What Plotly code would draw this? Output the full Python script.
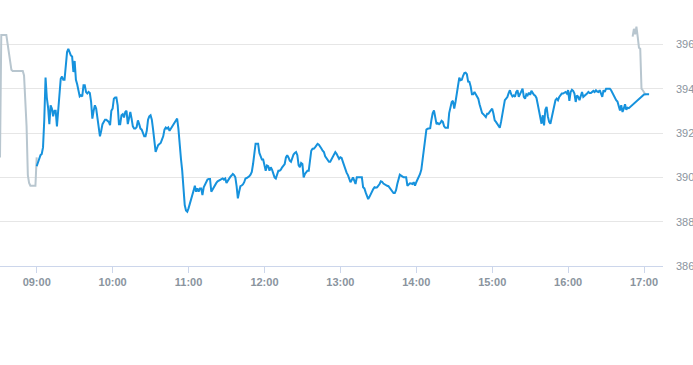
import pandas as pd
import plotly.graph_objects as go

DAY = "2024-01-02 "

# Pre-market (grey)
pre_times = ["08:31", "08:32", "08:36", "08:37", "08:38", "08:39", "08:40", "08:41",
             "08:49", "08:50", "08:51", "08:52", "08:53", "08:54", "08:55", "08:59", "09:00"]
pre_prices = [390.9, 396.42, 396.42, 396.05, 395.7, 395.3, 394.85, 394.8,
              394.8, 394.6, 393.7, 392.3, 390.1, 389.75, 389.62, 389.62, 390.9]

# Regular session (blue), one value per minute from session_start
session_start = "09:00"
session_prices = [
    390.5, 390.7, 390.85, 391.0, 391.05, 391.35, 392.6, 394.5, 393.6, 393.15,
    392.4, 393.25, 393.1, 392.75, 393.0, 393.0, 392.3, 393.1, 394.0, 394.45,
    394.55, 394.4, 394.4, 395.2, 395.65, 395.8, 395.65, 395.5, 395.45, 394.75,
    395.25, 394.4, 394.2, 393.95, 393.65, 393.7, 393.65, 394.15, 394.15, 393.85,
    393.78, 393.85, 393.8, 393.4, 392.65, 393.0, 393.25, 393.1, 392.7, 392.3,
    391.85, 392.1, 392.4, 392.5, 392.6, 392.6, 392.55, 392.5, 392.35, 393.0,
    393.1, 393.55, 393.6, 393.6, 393.25, 392.4, 392.4, 392.8, 392.85, 392.7,
    392.95, 393.0, 392.4, 392.7, 392.95, 392.65, 392.3, 392.2, 392.2, 392.27,
    392.57, 392.4, 392.2, 392.15, 391.95, 391.85, 391.85, 392.1, 392.6, 392.75,
    392.8, 392.6, 392.15, 391.7, 391.15, 391.3, 391.45, 391.5, 391.55, 391.7,
    391.85, 392.15, 392.25, 392.2, 392.25, 392.1, 392.2, 392.25, 392.35, 392.45,
    392.58, 392.65, 392.2, 391.4, 390.85, 390.3, 389.5, 388.75, 388.5, 388.45,
    388.6, 388.85, 389.05, 389.2, 389.4, 389.62, 389.35, 389.5, 389.35, 389.5,
    389.5, 389.2, 389.55, 389.68, 389.8, 389.9, 389.93, 389.93, 389.35, 389.45,
    389.6, 389.65, 389.75, 389.82, 389.85, 389.87, 389.9, 389.95, 389.9, 389.95,
    389.75, 389.85, 389.95, 390.02, 390.08, 390.15, 390.1, 390.0, 389.6, 389.05,
    389.35, 389.6, 389.63, 389.68, 389.78, 389.95, 389.97, 390.0, 390.05, 390.12,
    390.24, 390.6, 391.2, 391.52, 391.52, 391.52, 391.1, 390.95, 390.8, 390.8,
    390.57, 390.3, 390.53, 390.5, 390.3, 390.45, 390.35, 390.2, 390.0, 389.95,
    390.15, 390.3, 390.3, 390.35, 390.45, 390.55, 390.6, 390.9, 391.0, 390.9,
    390.75, 390.7, 390.9, 391.03, 391.1, 391.14, 391.0, 390.55, 390.46, 390.65,
    390.6, 390.0, 390.15, 390.25, 390.3, 390.3, 390.8, 391.2, 391.29, 391.29,
    391.35, 391.44, 391.51, 391.47, 391.4, 391.3, 391.2, 391.14, 390.95, 390.85,
    390.75, 390.7, 390.7, 390.83, 390.95, 391.05, 391.14, 391.06, 390.93, 390.83,
    390.9, 390.87, 390.7, 390.5, 390.35, 390.2, 390.1, 389.88, 389.78, 389.88,
    390.0, 389.85, 389.7, 390.0, 390.0, 390.0, 390.0, 390.0, 389.55, 389.5,
    389.32, 389.17, 389.02, 389.12, 389.25, 389.35, 389.47, 389.55, 389.53, 389.55,
    389.62, 389.7, 389.82, 389.8, 389.72, 389.68, 389.63, 389.62, 389.6, 389.52,
    389.42, 389.32, 389.29, 389.29, 389.42, 389.7, 389.95, 390.12, 390.08, 390.03,
    390.0, 390.0, 390.0, 389.62, 389.7, 389.73, 389.72, 389.7, 389.78, 389.62,
    389.78, 389.9, 390.05, 390.15, 390.35, 390.8, 391.3, 391.85, 392.15, 392.19,
    392.19, 392.22, 392.6, 392.9, 393.02, 392.65, 392.4, 392.45, 392.4, 392.45,
    392.55, 392.5, 392.3, 392.24, 392.24, 392.24, 392.9, 393.18, 393.4, 393.45,
    393.1, 393.4, 393.78, 394.2, 394.5, 394.38, 394.4, 394.58, 394.7, 394.72,
    394.65, 394.32, 394.31, 394.1, 393.75, 393.75, 393.85, 393.75, 393.65, 393.55,
    393.3, 393.05, 392.9, 392.85, 392.8, 392.72, 392.87, 392.87, 392.95, 393.05,
    393.1, 392.87, 392.57, 392.5, 392.4, 392.3, 392.24, 392.5, 392.85, 393.2,
    393.48, 393.55, 393.62, 393.8, 393.93, 393.75, 393.65, 393.7, 393.63, 393.85,
    393.93, 393.63, 393.78, 393.93, 394.0, 393.63, 393.55, 393.75, 393.7, 393.82,
    393.72, 393.9, 393.8, 393.72, 393.68, 393.58, 393.3, 393.0, 392.55, 392.42,
    392.8, 392.34, 393.05, 393.18, 392.75, 392.5, 392.42, 392.72, 392.95, 393.25,
    393.48, 393.55, 393.48, 393.63, 393.7, 393.78, 393.78, 393.81, 393.85, 393.78,
    393.93, 393.45, 393.85, 393.95, 393.9, 393.78, 393.4, 393.7, 393.63, 393.48,
    393.7, 393.85, 393.63, 393.68, 393.7, 393.78, 393.85, 393.8, 393.8, 393.85,
    393.9, 393.85, 393.93, 393.87, 393.85, 393.93, 393.78, 393.63, 393.93, 393.85,
    394.0, 394.0, 394.0, 394.0, 393.93, 393.8, 393.72, 393.6, 393.48, 393.42,
    393.25, 393.02, 393.25, 392.95, 393.1, 393.3, 393.05, 393.14, 393.12,
]
# Closing prints (blue)
close_times = ["17:00", "17:02", "17:04"]
close_prices = [393.74, 393.75, 393.75]

# After-hours (grey)
post_times = ["16:51", "16:52", "16:53", "16:54", "16:55", "16:56", "16:57", "16:58",
              "16:59", "17:00", "17:01"]
post_prices = [396.35, 396.7, 396.45, 396.8, 396.35, 395.85, 395.8, 394.0,
               393.93, 393.8, 393.75]

y_ticks = [386, 388, 390, 392, 394, 396]
x_ticks = ["09:00", "10:00", "11:00", "12:00", "13:00", "14:00", "15:00", "16:00", "17:00"]

session_x = list(pd.date_range(DAY + session_start, periods=len(session_prices), freq="min"))
blue_x = session_x + [pd.Timestamp(DAY + t) for t in close_times]
blue_y = session_prices + close_prices

GREY = "#B8C6CF"
BLUE = "#1692DD"
LABEL = "#8A949E"

fig = go.Figure()
fig.add_trace(go.Scatter(x=[DAY + t for t in pre_times], y=pre_prices, mode="lines",
                         line=dict(color=GREY, width=2), hoverinfo="skip"))
fig.add_trace(go.Scatter(x=[DAY + t for t in post_times], y=post_prices, mode="lines",
                         line=dict(color=GREY, width=2), hoverinfo="skip"))
fig.add_trace(go.Scatter(x=blue_x, y=blue_y, mode="lines",
                         line=dict(color=BLUE, width=2), hoverinfo="skip"))

fig.update_layout(
    width=693, height=365,
    margin=dict(l=0, r=30, t=0, b=99),
    plot_bgcolor="white", paper_bgcolor="white",
    showlegend=False,
    font=dict(family="Liberation Sans, Arial, sans-serif"),
)
fig.update_xaxes(
    type="date",
    range=[DAY + "08:31", DAY + "17:15"],
    tickvals=[DAY + t for t in x_ticks],
    ticktext=x_ticks,
    showgrid=False, zeroline=False,
    showline=True, linecolor="#CCD6EB", linewidth=1,
    ticks="outside", ticklen=6, tickcolor="#CCD6EB",
    tickfont=dict(size=11, color=LABEL, weight="bold"),
)
fig.update_yaxes(
    side="right",
    range=[386, 398],
    tickvals=y_ticks,
    showgrid=True, gridcolor="#E6E6E6", gridwidth=1,
    zeroline=False, showline=False,
    ticks="", ticklabelstandoff=12,
    tickfont=dict(size=11, color=LABEL),
)

fig.write_html("out.html")
